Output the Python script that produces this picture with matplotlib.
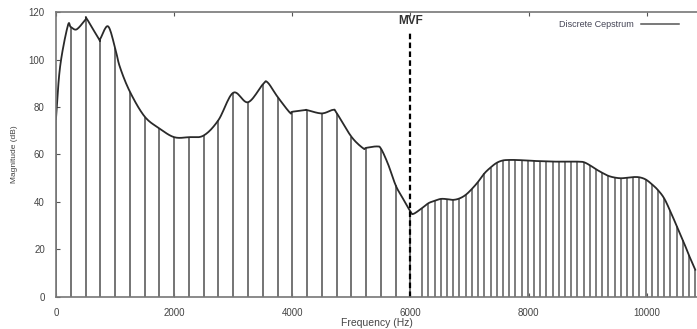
import matplotlib
matplotlib.use('Agg')
import matplotlib.pyplot as plt
import numpy as np

plt.rcParams['font.family'] = ['Liberation Sans', 'DejaVu Sans']

# cepstral envelope, low band (harmonic stems every 250 Hz up to the MVF)
low_freq = [0, 250, 500, 750, 1000, 1250, 1500, 1750, 2000, 2250, 2500,
            2750, 3000, 3250, 3500, 3750, 4000, 4250, 4500, 4750, 5000,
            5250, 5500, 5750, 6000]
low_mag = [75, 113.7, 116.8, 108.7, 105, 86.5, 76, 71, 67.3, 67.3, 68,
           74.5, 86, 82, 89.5, 84.3, 78, 78.7, 77.3, 77.5, 67.5,
           62.8, 62.5, 47, 36]

# high band (noise part above the MVF, denser stems)
high_freq = [6200, 6305, 6410, 6515, 6620, 6725, 6830, 6935, 7040, 7145,
             7250, 7355, 7460, 7565, 7670, 7775, 7880, 7985, 8090, 8195,
             8300, 8405, 8510, 8615, 8720, 8825, 8930, 9035, 9140, 9245,
             9350, 9455, 9560, 9665, 9770, 9875, 9980, 10085, 10190, 10295,
             10400, 10505, 10610, 10715, 10820]
high_mag = [37.5, 39.5, 40.5, 41.3, 41.2, 40.9, 41.5, 43, 45.5, 48.5,
            52, 54.5, 56.5, 57.5, 57.7, 57.7, 57.6, 57.5, 57.3, 57.2,
            57.1, 57, 57, 57, 57, 57, 56.8, 55.5, 53.8, 52.3,
            51, 50.3, 50, 50.2, 50.5, 50.4, 49.5, 47.5, 45, 41.5,
            36, 30, 24, 17.5, 11.5]

# extra envelope points between stems (peaks and valleys)
extra_freq = [70, 200, 350, 520, 730, 880, 1080, 3580, 3960, 4220, 4690,
              5200, 5430, 5620, 5860, 6050]
extra_mag = [97, 114.2, 112.7, 117.2, 108.5, 114, 97, 90.4, 77.6, 78.7,
             78.8, 62.6, 63.4, 56, 42, 35]

mvf = 6000


def smooth_path(xs, ys, n=12):
    # Catmull-Rom curve through the points, for drawing only
    x = np.asarray(xs, float)
    y = np.asarray(ys, float)
    px = np.concatenate([[2 * x[0] - x[1]], x, [2 * x[-1] - x[-2]]])
    py = np.concatenate([[2 * y[0] - y[1]], y, [2 * y[-1] - y[-2]]])
    t = np.linspace(0, 1, n, endpoint=False)[:, None]
    out = []
    for p in (px, py):
        p0, p1, p2, p3 = p[:-3], p[1:-2], p[2:-1], p[3:]
        seg = 0.5 * ((2 * p1) + (-p0 + p2) * t
                     + (2 * p0 - 5 * p1 + 4 * p2 - p3) * t ** 2
                     + (-p0 + 3 * p1 - 3 * p2 + p3) * t ** 3)
        out.append(np.append(seg.T.ravel(), p[-2]))
    return out[0], out[1]


env = sorted(zip(low_freq + extra_freq + high_freq,
                 low_mag + extra_mag + high_mag))
env_f = [p[0] for p in env]
env_m = [p[1] for p in env]
curve_f, curve_m = smooth_path(env_f, env_m)

fig = plt.figure(figsize=(6.97, 3.29), dpi=100)
ax = fig.add_axes([0.0803, 0.0973, 0.9197, 0.8662])

stem_color = '#747474'
ax.vlines(low_freq, 0, low_mag, color=stem_color, lw=1.4)
ax.vlines(high_freq, 0, high_mag, color=stem_color, lw=1.3)
ax.plot(curve_f, curve_m, color='#2a2a2a', lw=1.3)
# legend handle only
ax.plot([], [], color='#555555', lw=1.1, label='Discrete Cepstrum')

# maximum voiced frequency marker
ax.vlines(mvf, 0, 111.5, color='black', lw=1.6, linestyles=(0, (2.5, 1.5)))
ax.text(mvf, 113.5, 'MVF', ha='center', va='bottom', fontsize=8.5,
        fontweight='bold', color='#333333')

ax.set_xlim(0, 10850)
ax.set_ylim(0, 120)
ax.set_xticks([0, 2000, 4000, 6000, 8000, 10000])
ax.set_yticks([0, 20, 40, 60, 80, 100, 120])
ax.tick_params(direction='in', length=3, width=0.8, labelsize=7,
               labelcolor='#444444', color='#555555', top=True, pad=8)
ax.set_xlabel('Frequency (Hz)', fontsize=7.5, color='#444444', labelpad=0)
ax.set_ylabel('Magnitude (dB)', fontsize=6, color='#444444', labelpad=8)

for side in ['left', 'top', 'bottom']:
    ax.spines[side].set_color('#777777')
    ax.spines[side].set_linewidth(1.2)
ax.spines['right'].set_visible(False)

ax.legend(loc='upper right', bbox_to_anchor=(0.985, 1.0), frameon=False,
          markerfirst=False, fontsize=6.5, handlelength=4.2,
          labelcolor='#444455')

plt.savefig('out.png', dpi=100)
